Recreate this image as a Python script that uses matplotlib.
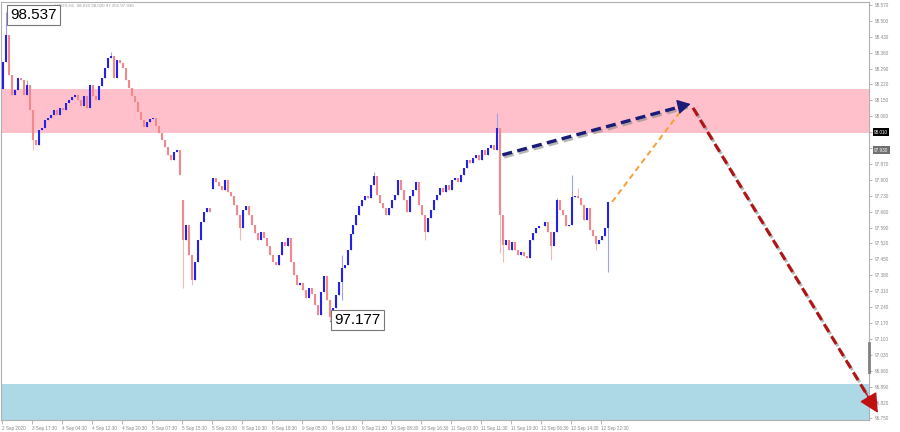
import matplotlib
matplotlib.use("Agg")
import matplotlib.pyplot as plt
import matplotlib.patheffects as pe

# ---------------- data ----------------
closes = [
    98.319, 98.438, 98.262, 98.174, 98.196, 98.249, 98.240, 98.174, 98.218, 98.108,
    97.976, 97.954, 98.020, 98.028, 98.064, 98.072, 98.086, 98.108, 98.086, 98.116,
    98.108, 98.139, 98.152, 98.165, 98.174, 98.152, 98.125, 98.169, 98.116, 98.218,
    98.169, 98.152, 98.213, 98.249, 98.293, 98.337, 98.345, 98.249, 98.328, 98.315,
    98.293, 98.240, 98.205, 98.169, 98.143, 98.099, 98.064, 98.033, 98.055, 98.068,
    98.072, 98.037, 98.006, 97.976, 97.945, 97.910, 97.888, 97.923, 97.932, 97.821,
    97.535, 97.601, 97.469, 97.359, 97.438, 97.535, 97.614, 97.658, 97.676, 97.658,
    97.808, 97.791, 97.773, 97.755, 97.799, 97.747, 97.729, 97.689, 97.645, 97.588,
    97.667, 97.685, 97.645, 97.601, 97.566, 97.535, 97.570, 97.544, 97.509, 97.469,
    97.438, 97.425, 97.469, 97.526, 97.509, 97.544, 97.438, 97.381, 97.337, 97.346,
    97.315, 97.280, 97.324, 97.297, 97.249, 97.205, 97.306, 97.377, 97.271, 97.196,
    97.236, 97.293, 97.350, 97.412, 97.425, 97.491, 97.562, 97.601, 97.645, 97.685,
    97.711, 97.729, 97.720, 97.777, 97.817, 97.733, 97.698, 97.676, 97.645, 97.676,
    97.711, 97.733, 97.799, 97.755, 97.711, 97.658, 97.729, 97.755, 97.791, 97.689,
    97.645, 97.570, 97.632, 97.667, 97.711, 97.733, 97.764, 97.747, 97.777, 97.755,
    97.799, 97.808, 97.791, 97.821, 97.852, 97.888, 97.874, 97.896, 97.910, 97.888,
    97.932, 97.910, 97.941, 97.954, 97.932, 98.028, 97.645, 97.513, 97.535, 97.491,
    97.526, 97.491, 97.469, 97.482, 97.465, 97.456, 97.535, 97.566, 97.588, 97.597,
    97.597, 97.614, 97.570, 97.509, 97.570, 97.711, 97.667, 97.645, 97.597, 97.601,
    97.725, 97.729, 97.720, 97.689, 97.623, 97.676, 97.579, 97.553, 97.518, 97.535,
    97.553, 97.588, 97.702,
]
first_open = 98.200
# opens at price gaps (bar index -> open)
gap_opens = {60: 97.711, 70: 97.760}
# wick extremes that reach beyond the body (bar index -> price)
high_wicks = {1: 98.537, 8: 98.240, 36: 98.363, 124: 97.835,
              165: 98.094, 185: 97.720, 190: 97.821, 192: 97.764, 113: 97.470}
low_wicks = {10: 97.930, 60: 97.324, 63: 97.337, 79: 97.535, 109: 97.179,
             113: 97.271, 141: 97.535, 166: 97.480, 183: 97.447, 198: 97.491,
             202: 97.394, 167: 97.440}

time_labels = ["2 Sep 2020", "3 Sep 17:30", "4 Sep 04:30", "4 Sep 12:30", "4 Sep 20:30",
               "5 Sep 07:30", "5 Sep 15:30", "5 Sep 23:30", "8 Sep 10:30", "8 Sep 18:30",
               "9 Sep 05:30", "9 Sep 13:30", "9 Sep 21:30", "10 Sep 08:30", "10 Sep 16:30",
               "11 Sep 03:30", "11 Sep 11:30", "11 Sep 19:30", "12 Sep 06:30", "12 Sep 14:30",
               "12 Sep 22:30"]
bars_per_label = 10

resistance_zone = [98.006, 98.200]
support_zone = [96.740, 96.900]
price_ticks = [96.750, 96.820, 96.890, 96.960, 97.030, 97.100, 97.170, 97.240, 97.310,
               97.380, 97.450, 97.520, 97.590, 97.660, 97.730, 97.800, 97.870, 97.940,
               98.010, 98.080, 98.150, 98.220, 98.290, 98.360, 98.430, 98.500, 98.570]
marked_high = (1, 98.537)
marked_low = (109, 97.177)
# forecast path (bar index, price)
forecast_b = [(166.7, 97.910), (229.5, 98.134)]
forecast_b_alt = [(203.3, 97.703), (227.0, 98.117)]
forecast_c = [(230.3, 98.117), (292.0, 96.774)]
current_price = 97.930
black_label = 98.010
header = "USDX,H1  98.010 98.020 97.255 97.930"

# ---------------- figure ----------------
YMIN, YMAX = 96.743, 98.583
fig = plt.figure(figsize=(9, 4.32), dpi=100)
ax = fig.add_axes([0.001, 12 / 432, 868 / 900, 418 / 432])
ax.set_xlim(-0.67, 289)
ax.set_ylim(YMIN, YMAX)

ax.axhspan(resistance_zone[0], resistance_zone[1], color="#ffc0cb", lw=0, zorder=0)
ax.axhspan(support_zone[0], support_zone[1], color="#add8e6", lw=0, zorder=0)

up_body, dn_body = "#2323e8", "#f08a8a"
up_wick, dn_wick = "#a0a0f0", "#f5b8b8"
prev = first_open
for i, c in enumerate(closes):
    o = gap_opens.get(i, prev)
    hi = max(o, c, high_wicks.get(i, -1e9))
    lo = min(o, c, low_wicks.get(i, 1e9))
    up = c >= o
    ax.plot([i, i], [lo, hi], color=up_wick if up else dn_wick, lw=0.8,
            solid_capstyle="butt", zorder=2)
    ax.plot([i, i], [min(o, c), max(o, c)], color=up_body if up else dn_body, lw=1.5,
            solid_capstyle="butt", zorder=3)
    prev = c

shadow = [pe.SimpleLineShadow(offset=(1.2, -1.5), shadow_color="#888888", alpha=0.6),
          pe.Normal()]

# wave B (navy)
(x0, y0), (x1, y1) = forecast_b
ax.plot([x0, x1 - 1.5], [y0, y1 - 0.005], color="#1b1b78", lw=2.4, ls=(0, (3, 1.6)),
        zorder=5, path_effects=shadow, dash_capstyle="butt")
ax.annotate("", xy=(x1, y1), xytext=(x1 - 4, y1 - 0.012),
            arrowprops=dict(arrowstyle="-|>,head_length=0.8,head_width=0.45",
                            color="#1b1b78", lw=1, shrinkA=0, shrinkB=0), zorder=6)
# alternative (orange)
(x0, y0), (x1, y1) = forecast_b_alt
ax.plot([x0, x1], [y0, y1], color="#f5a035", lw=1.4, ls=(0, (3, 2)), zorder=5)
# wave C (dark red)
(x0, y0), (x1, y1) = forecast_c
ax.plot([x0, x1 - 3], [y0, y1 + 0.066], color="#b01414", lw=2.2, ls=(0, (3, 1.6)),
        zorder=5, path_effects=shadow, clip_on=False, dash_capstyle="butt")
ax.annotate("", xy=(x1, y1), xytext=(x1 - 5, y1 + 0.11),
            arrowprops=dict(arrowstyle="-|>,head_length=1.2,head_width=0.6",
                            color="#c01010", lw=1, shrinkA=0, shrinkB=0),
            annotation_clip=False, zorder=6)

# price labels
bbox = dict(boxstyle="square,pad=0.2", fc="white", ec="#777777", lw=0.8)
ax.text(marked_high[0] + 1.5, 98.555, f"{marked_high[1]:.3f}", fontsize=11,
        family="Liberation Sans", ha="left", va="top", bbox=bbox, zorder=8)
ax.plot([marked_low[0], marked_low[0] + 1.2], [marked_low[1], marked_low[1]],
        color="#777777", lw=0.8, zorder=8)
ax.text(marked_low[0] + 1.6, 97.213, f"{marked_low[1]:.3f}", fontsize=11,
        family="Liberation Sans", ha="left", va="top", bbox=bbox, zorder=8)

# header text (to the right of the high label)
ax.text(17.5, 98.577, header, fontsize=3.2, family="Liberation Sans",
        color="#999999", ha="left", va="top", zorder=7)

# axes styling
for s in ["top", "bottom", "left", "right"]:
    ax.spines[s].set_color("#b0b0b0")
    ax.spines[s].set_linewidth(0.8)
ax.yaxis.tick_right()
ax.set_yticks(price_ticks)
ax.set_yticklabels([f"{p:.3f}" for p in price_ticks], family="Liberation Sans")
ax.tick_params(axis="y", length=2.5, width=0.5, color="#999999", labelsize=3.3,
               labelcolor="#888888", pad=2)
ticks_x = [k * bars_per_label - 0.33 for k in range(len(time_labels))]
ax.set_xticks(ticks_x)
ax.set_xticklabels(time_labels, ha="left", family="Liberation Sans")
ax.tick_params(axis="x", length=3, width=0.5, color="#999999", labelsize=3.3,
               labelcolor="#888888", pad=1.5)

# highlighted price labels on the axis
def yfrac(p):
    return (p - YMIN) / (YMAX - YMIN)

ax.text(1.006, yfrac(black_label), f"{black_label:.3f}", transform=ax.transAxes,
        fontsize=3.3, family="Liberation Sans", color="white", ha="left", va="center",
        bbox=dict(boxstyle="square,pad=0.3", fc="black", ec="none"), zorder=9, clip_on=False)
ax.text(1.006, yfrac(current_price), f"{current_price:.3f}", transform=ax.transAxes,
        fontsize=3.3, family="Liberation Sans", color="white", ha="left", va="center",
        bbox=dict(boxstyle="square,pad=0.3", fc="#707070", ec="none"), zorder=9, clip_on=False)
# scroll marker on the price scale
ax.plot([1.0, 1.0], [yfrac(96.954), yfrac(97.082)], transform=ax.transAxes,
        color="#808080", lw=2, clip_on=False, zorder=9)

fig.savefig("out.png", dpi=100, facecolor="white")
